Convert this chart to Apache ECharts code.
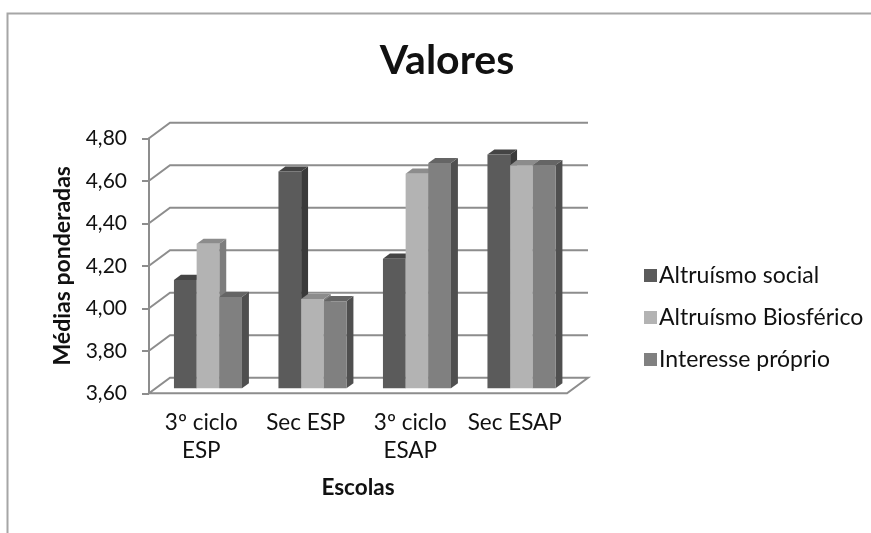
<!DOCTYPE html>
<html>
<head>
<meta charset="utf-8">
<script src="https://cdn.jsdelivr.net/npm/echarts@6/dist/echarts.min.js"></script>
<style>
  html, body { margin: 0; padding: 0; background: #ffffff; }
  #chart { width: 871px; height: 533px; }
</style>
</head>
<body>
<div id="chart"></div>
<script>
// Schools (categories) and weighted means per value dimension
const categories = ['3º ciclo\nESP', 'Sec ESP', '3º ciclo\nESAP', 'Sec ESAP'];
const seriesNames = ['Altruísmo social', 'Altruísmo Biosférico', 'Interesse próprio'];
const altruismoSocial = [4.11, 4.62, 4.21, 4.70];
const altruismoBiosferico = [4.28, 4.02, 4.61, 4.65];
const interesseProprio = [4.03, 4.01, 4.66, 4.65];
const yMin = 3.6, yMax = 4.8, yStep = 0.2;
const yTickValues = [3.6, 3.8, 4.0, 4.2, 4.4, 4.6, 4.8];

// Shading for each series: front face, top face, side face
const palette = [
  { front: '#5b5b5b', top: '#444444', side: '#3a3a3a' },
  { front: '#b3b3b3', top: '#8c8c8c', side: '#7d7d7d' },
  { front: '#808080', top: '#656565', side: '#4f4f4f' }
];

// Oblique projection of the depth axis (front plane -> back wall)
const DEPTH_X = 21, DEPTH_Y = 15.5;
const BAR_DEPTH_START = 0.32, BAR_DEPTH = 0.33;
const BAR_FRACTION = 0.217; // bar width as a share of the category band
const wallColor = '#8d8d8d';
const FONT = 'Lato, "Open Sans", sans-serif';
const INK = '#111111';

function wallRenderer(params, api) {
  const cs = params.coordSys;
  const v = api.value(0);
  const y = api.coord([0, v])[1];
  const x0 = cs.x, x1 = cs.x + cs.width;
  const children = [];
  if (params.dataIndex === 0) {
    // floor
    children.push({
      type: 'polygon',
      shape: { points: [[x0, y], [x1, y], [x1 + DEPTH_X, y - DEPTH_Y], [x0 + DEPTH_X, y - DEPTH_Y]] },
      style: { fill: '#ffffff', stroke: wallColor, lineWidth: 2 }
    });
  } else {
    children.push({
      type: 'polyline',
      shape: { points: [[x0, y], [x0 + DEPTH_X, y - DEPTH_Y], [x1 + DEPTH_X, y - DEPTH_Y]] },
      style: { fill: null, stroke: wallColor, lineWidth: 2 }
    });
  }
  return { type: 'group', children: children };
}

function barRenderer(seriesIndex) {
  const c = palette[seriesIndex];
  return function (params, api) {
    const cat = api.value(0), val = api.value(1);
    const base = api.coord([cat, yMin]);
    const top = api.coord([cat, val]);
    const band = api.size([1, 0])[0];
    const bw = band * BAR_FRACTION;
    const ox = DEPTH_X * BAR_DEPTH_START, oy = DEPTH_Y * BAR_DEPTH_START;
    const dx = DEPTH_X * BAR_DEPTH, dy = DEPTH_Y * BAR_DEPTH;
    const xl = base[0] - 1.5 * bw + seriesIndex * bw + ox;
    const xr = xl + bw;
    const yb = base[1] - oy;
    const yt = top[1] - oy;
    return {
      type: 'group',
      children: [
        { type: 'polygon', shape: { points: [[xr, yt], [xr + dx, yt - dy], [xr + dx, yb - dy], [xr, yb]] }, style: { fill: c.side } },
        { type: 'polygon', shape: { points: [[xl, yt], [xl + dx, yt - dy], [xr + dx, yt - dy], [xr, yt]] }, style: { fill: c.top } },
        { type: 'rect', shape: { x: xl, y: yt, width: bw, height: yb - yt }, style: { fill: c.front } }
      ]
    };
  };
}

const valueSets = [altruismoSocial, altruismoBiosferico, interesseProprio];

const chart = echarts.init(document.getElementById('chart'), null, { renderer: 'canvas' });
chart.setOption({
  animation: false,
  backgroundColor: '#ffffff',
  textStyle: { fontFamily: FONT },
  graphic: [{
    type: 'rect', silent: true, z: -10,
    shape: { x: 7.5, y: 13.5, width: 1000, height: 1000 },
    style: { fill: null, stroke: '#a6a6a6', lineWidth: 2 }
  }],
  title: {
    text: 'Valores', left: 442, top: 35, textAlign: 'center',
    textStyle: { fontFamily: FONT, fontSize: 41, fontWeight: 'bold', color: INK }
  },
  legend: {
    orient: 'vertical', left: 639, top: 259,
    itemWidth: 13, itemHeight: 13, itemGap: 19,
    icon: 'rect',
    textStyle: { fontFamily: FONT, fontSize: 23, color: INK, padding: [0, 0, 0, -3] },
    data: seriesNames
  },
  grid: { left: 149, top: 138.3, width: 418, height: 255 },
  xAxis: {
    type: 'category', data: categories,
    name: 'Escolas', nameLocation: 'middle', nameGap: 83,
    nameTextStyle: { fontFamily: FONT, fontSize: 22.5, fontWeight: 'bold', color: INK },
    axisLine: { show: false }, axisTick: { show: false },
    axisLabel: { interval: 0, margin: 15, fontFamily: FONT, fontSize: 22.5, lineHeight: 28.5, color: INK },
    splitLine: { show: false }
  },
  yAxis: {
    type: 'value', min: yMin, max: yMax, interval: yStep,
    name: 'Médias ponderadas', nameLocation: 'middle', nameGap: 75,
    nameTextStyle: { fontFamily: FONT, fontSize: 23, fontWeight: 'bold', color: INK },
    axisLine: { show: true, lineStyle: { color: wallColor, width: 2 } },
    axisTick: { show: true, length: 7, lineStyle: { color: wallColor, width: 2 } },
    axisLabel: {
      margin: 22, fontFamily: FONT, fontSize: 21, color: INK,
      formatter: function (v) { return v.toFixed(2).replace('.', ','); }
    },
    splitLine: { show: false }
  },
  series: [
    {
      type: 'custom', name: 'wall', silent: true, z: 1,
      renderItem: wallRenderer,
      encode: { y: 0 },
      data: yTickValues.map(function (v) { return [v]; })
    }
  ].concat(valueSets.map(function (vals, i) {
    return {
      type: 'custom', name: seriesNames[i], z: 2 + i,
      itemStyle: { color: palette[i].front },
      renderItem: barRenderer(i),
      encode: { x: 0, y: 1 },
      data: vals.map(function (v, k) { return [k, v]; })
    };
  }))
});
</script>
</body>
</html>
